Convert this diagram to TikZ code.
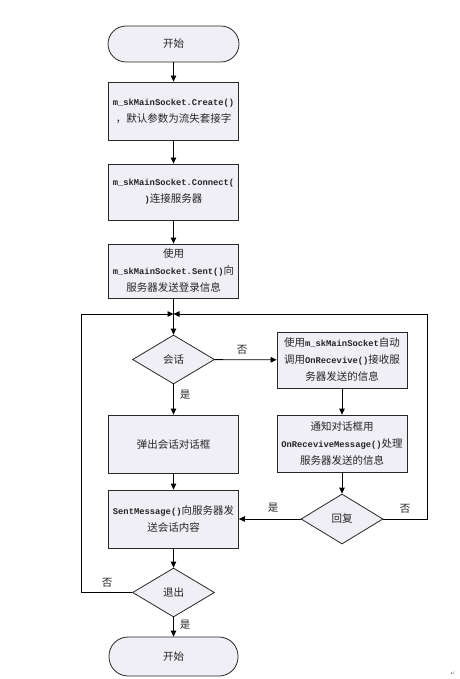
\documentclass[tikz,border=0pt]{standalone}
\usepackage{fontspec}
\setmainfont{Noto Sans CJK SC}
\newfontfamily\monof{Liberation Mono}
\newfontfamily\symf{DejaVu Sans}
\usetikzlibrary{shapes.geometric,arrows.meta}
\definecolor{boxfill}{RGB}{239,239,245}
\definecolor{edgeline}{RGB}{40,40,40}
\newcommand{\mm}[1]{{\monof\bfseries\fontsize{8.8}{17}\selectfont #1}}
\begin{document}
\begin{tikzpicture}[x=1pt,y=-1pt,
  box/.style={draw=edgeline, fill=boxfill, line width=0.8pt, minimum width=130pt, align=center, inner sep=2pt, font=\fontsize{10.5}{17}\selectfont, text=black!85},
  term/.style={box, rounded corners=18pt},
  dia/.style={draw=edgeline, fill=boxfill, line width=0.8pt, diamond, inner sep=0pt, minimum width=82pt, minimum height=49pt, font=\fontsize{10.5}{17}\selectfont, text=black!85},
  arr/.style={draw=black, line width=0.8pt, -{Triangle[length=6pt,width=5.5pt]}},
  ln/.style={draw=black, line width=0.8pt},
  lab/.style={font=\fontsize{10.5}{12}\selectfont, text=black!85, inner sep=0pt}
]
\useasboundingbox (0,0) rectangle (459,679);
\fill[white] (0,0) rectangle (459,679);

\node[term, minimum width=131pt, minimum height=36pt] (start) at (173.5,44) {开始};
\node[box, minimum height=58pt] (b1) at (173.5,111) {\mm{m\_skMainSocket.Create()}\\，默认参数为流失套接字};
\node[box, minimum height=56pt] (b2) at (173.5,192) {\mm{m\_skMainSocket.Connect(}\\\mm{)}连接服务器};
\node[box, minimum height=54pt] (b3) at (173.5,271) {使用\\\mm{m\_skMainSocket.Sent()}向\\服务器发送登录信息};
\coordinate (J) at (173.5,314);
\node[dia] (d1) at (173.5,359.5) {会话};
\node[box, minimum height=56pt] (r1) at (342,360) {使用\mm{m\_skMainSocket}自动\\调用\mm{OnRecevive()}接收服\\务器发送的信息};
\node[box, minimum height=58pt] (l2) at (173.5,444) {弹出会话对话框};
\node[box, minimum height=57pt] (r2) at (342,443.5) {通知对话框用\\\mm{OnReceviveMessage()}处理\\服务器发送的信息};
\node[box, minimum height=58pt] (s) at (173.5,519) {\mm{SentMessage()}向服务器发\\送会话内容};
\node[dia, minimum height=50pt] (d2) at (342,519) {回复};
\node[dia] (d3) at (173.5,592.5) {退出};
\node[term, minimum width=129pt, minimum height=39pt, rounded corners=19pt] (end) at (173.5,656.5) {开始};
\coordinate (Lc) at (81,592.5);
\coordinate (Rc) at (427,519);

\draw[arr] (start) -- (b1);
\draw[arr] (b1) -- (b2);
\draw[arr] (b2) -- (b3);
\draw[arr] (b3) -- (d1);
\draw[arr] (d1) -- (r1);
\draw[arr] (d1) -- (l2);
\draw[arr] (r1) -- (r2);
\draw[arr] (r2) -- (d2);
\draw[arr] (l2) -- (s);
\draw[arr] (d2) -- (s);
\draw[arr] (s) -- (d3);
\draw[arr] (d3) -- (end);
\draw[arr] (d3.west) -- (Lc) |- (J);
\draw[arr] (d2.east) -- (Rc) |- (J);

\node[lab] (n1) at (242,350) {否};
\node[lab] (y1) at (185,395) {是};
\node[lab] (y2) at (273,508) {是};
\node[lab] (n2) at (405,509) {否};
\node[lab] (n3) at (107,583) {否};
\node[lab] (y3) at (185,625) {是};
\node[inner sep=0pt, text=black!50, font=\symf\fontsize{6}{6}\selectfont] (pm) at (453,674) {↵};
\end{tikzpicture}
\end{document}
